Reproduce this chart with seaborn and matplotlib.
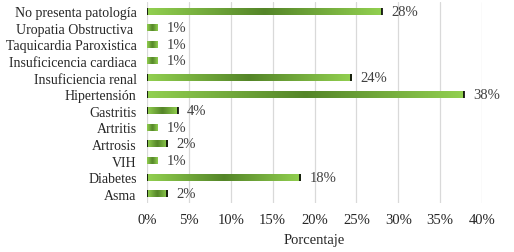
import numpy as np
import pandas as pd
import matplotlib
matplotlib.use("Agg")
import matplotlib.pyplot as plt
from matplotlib.colors import LinearSegmentedColormap
import seaborn as sns

# datos (n = 82 pacientes)
categorias = [
    "No presenta patología",
    "Uropatia Obstructiva ",
    "Taquicardia Paroxistica",
    "Insuficicencia cardiaca",
    "Insuficiencia renal",
    "Hipertensión",
    "Gastritis",
    "Artritis",
    "Artrosis",
    "VIH",
    "Diabetes",
    "Asma",
]
casos = [23, 1, 1, 1, 20, 31, 3, 1, 2, 1, 15, 2]
total = 82
porcentaje = [100 * c / total for c in casos]
etiquetas = [f"{round(p)}%" for p in porcentaje]
ticks_x = [0, 5, 10, 15, 20, 25, 30, 35, 40]

df = pd.DataFrame({"Patologia": categorias, "Porcentaje": porcentaje})

sns.set_style("white")
plt.rcParams["font.family"] = ["Liberation Serif", "DejaVu Serif"]

fig, ax = plt.subplots(figsize=(5.14, 2.53), dpi=100)
fig.subplots_adjust(left=0.286, right=0.938, top=0.988, bottom=0.194)

alto = 0.42
sns.barplot(data=df, x="Porcentaje", y="Patologia", orient="h",
            color="#7ab648", width=alto, ax=ax, zorder=2)

# degradado claro-oscuro-claro en cada barra
cmap = LinearSegmentedColormap.from_list(
    "verde", ["#92d050", "#548528", "#92d050"])
grad = np.linspace(0, 1, 256).reshape(1, -1)
for p in ax.patches:
    x0, y0 = p.get_x(), p.get_y()
    w, h = p.get_width(), p.get_height()
    p.set_facecolor("none")
    p.set_edgecolor("none")
    ax.imshow(grad, cmap=cmap, aspect="auto", extent=(x0, x0 + w, y0 + h, y0),
              zorder=2, interpolation="bicubic")

ax.set_xlim(0, 40)
ax.set_ylim(len(categorias) - 0.45, -0.55)

# marcas negras en los extremos
for i, v in enumerate(porcentaje):
    if v >= 2:
        ax.vlines([0, v], i - alto / 2, i + alto / 2, color="black",
                  linewidth=1.2, zorder=3)
    ax.text(v + 1.1, i, etiquetas[i], va="center", ha="left",
            fontsize=10.5, color="#404040")

ax.set_xticks(ticks_x)
ax.set_xticklabels([f"{t}%" for t in ticks_x], fontsize=10.5)
ax.tick_params(axis="y", labelsize=10, length=0, pad=7.5)
ax.tick_params(axis="x", length=0, pad=7)
ax.grid(axis="x", color="#d9d9d9", linewidth=0.9, zorder=0)
ax.set_axisbelow(True)
for s in ax.spines.values():
    s.set_visible(False)
ax.set_ylabel("")
ax.set_xlabel("Porcentaje", fontsize=10.5, labelpad=5)

fig.savefig("out.png", dpi=100)
